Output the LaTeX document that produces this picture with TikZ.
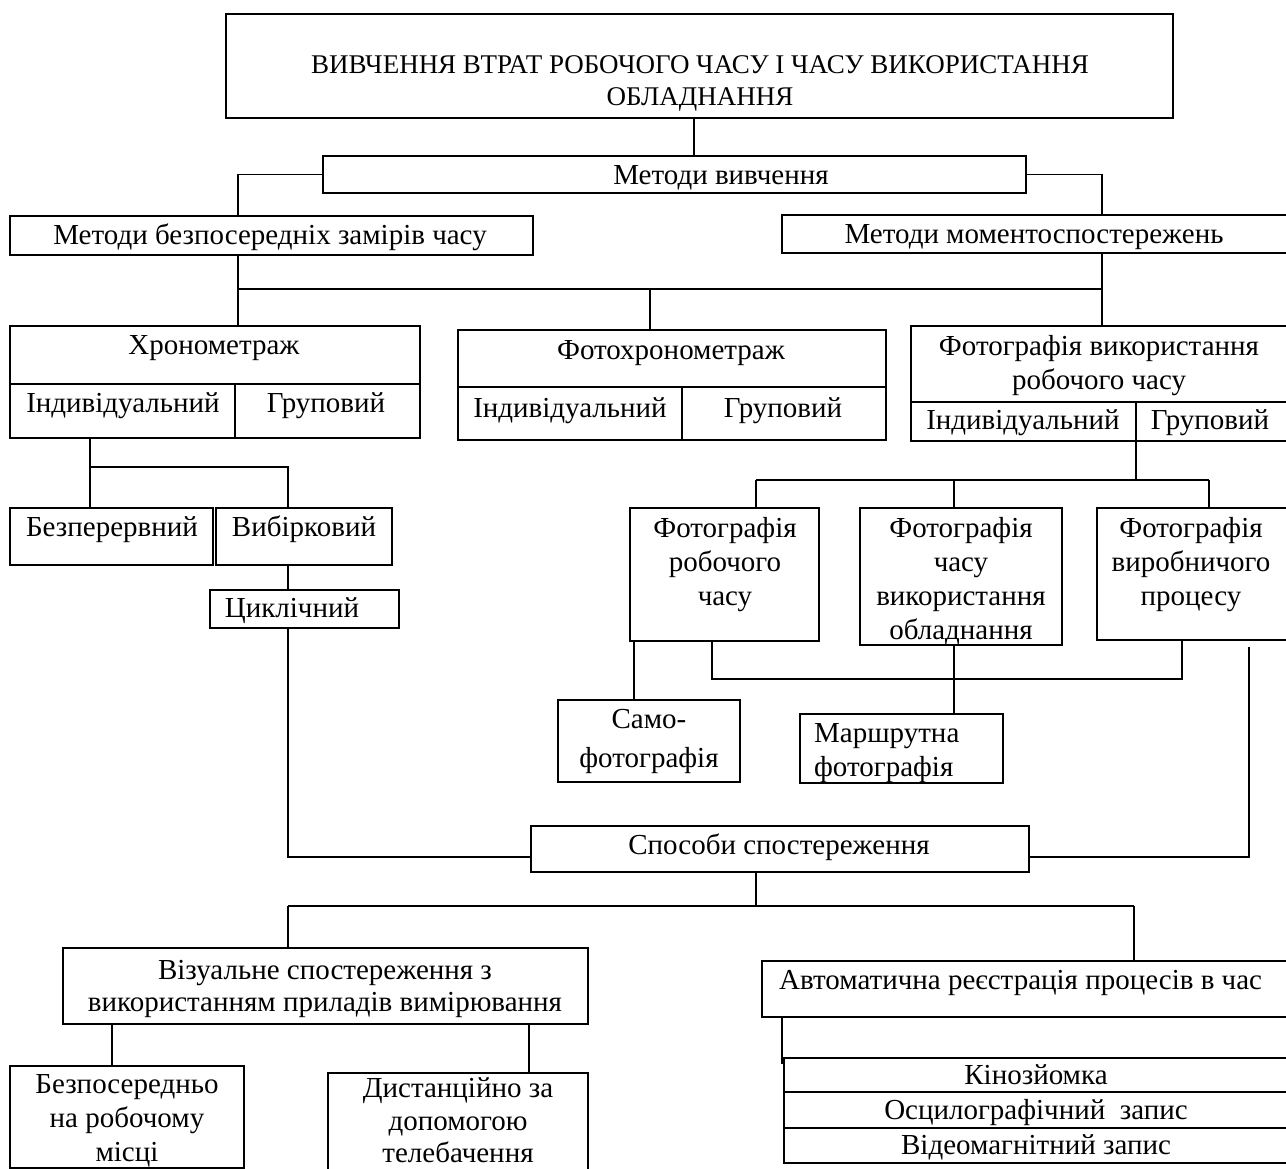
\documentclass[tikz,border=0pt]{standalone}
\usepackage{fontspec}
\setmainfont{Liberation Serif}
\newcommand{\fs}{\fontsize{29}{34}\selectfont}
\newcommand{\bxat}[5]{\node[bx, minimum width={(#4-#2)*1pt}, minimum height={(#5-#3)*1pt}] (#1) at ({(#2+#4)/2},{(#3+#5)/2}) {};}
\tikzset{
  bx/.style={draw, line width=2pt, inner sep=0pt, outer sep=0pt, rectangle},
  ln/.style={line width=1.5pt},
  tx/.style={inner sep=0pt, align=center, font=\fs, yshift=-3pt}
}
\begin{document}
\begin{tikzpicture}[x=1pt,y=-1pt]
\useasboundingbox (0,0) rectangle (1286,1169);
% ---------- boxes ----------
\bxat{top}{226}{14}{1173}{118}
\bxat{mv}{323}{156}{1026}{193}
\bxat{mbz}{10}{216}{533}{255}
\bxat{mms}{782}{215}{1292}{253}
\bxat{hron}{10}{326}{420}{384}
\bxat{hind}{10}{384}{235}{438}
\bxat{hgr}{235}{384}{420}{438}
\bxat{fh}{458}{330}{886}{387}
\bxat{fhind}{458}{387}{682}{440}
\bxat{fhgr}{682}{387}{886}{440}
\bxat{fv}{911}{326}{1292}{402}
\bxat{fvind}{911}{402}{1136}{441}
\bxat{fvgr}{1136}{402}{1292}{441}
\bxat{bez}{10}{508}{213}{565}
\bxat{vyb}{216}{508}{392}{565}
\bxat{cyk}{210}{590}{399}{628}
\bxat{fr}{630}{508}{819}{641}
\bxat{fc}{860}{508}{1062}{645}
\bxat{fp}{1097}{508}{1292}{640}
\bxat{samo}{558}{700}{740}{782}
\bxat{marsh}{800}{714}{1003}{783}
\bxat{spos}{531}{826}{1029}{872}
\bxat{viz}{63}{948}{588}{1024}
\bxat{bezp}{10}{1066}{244}{1168}
\bxat{dyst}{328}{1073}{588}{1180}
\bxat{avt}{762}{961}{1292}{1017}
\bxat{kino}{784}{1058}{1292}{1092}
\bxat{osc}{784}{1092}{1292}{1128}
\bxat{vid}{784}{1128}{1292}{1163}
% ---------- texts ----------
\node[tx, font=\fontsize{27}{32}\selectfont] (ttop) at (700,80) {\strut ВИВЧЕННЯ ВТРАТ РОБОЧОГО ЧАСУ І ЧАСУ ВИКОРИСТАННЯ\\\strut ОБЛАДНАННЯ};
\node[tx] (tmv) at (721,175) {\strut Методи вивчення};
\node[tx] (tmbz) at (270,235) {\strut Методи безпосередніх замірів часу};
\node[tx] (tmms) at (1034,234) {\strut Методи моментоспостережень};
\node[tx] (thron) at (214,345) {\strut Хронометраж};
\node[tx] (thind) at (123,403) {\strut Індивідуальний};
\node[tx] (thgr) at (326,403) {\strut Груповий};
\node[tx] (tfh) at (671,350) {\strut Фотохронометраж};
\node[tx] (tfhind) at (570,408) {\strut Індивідуальний};
\node[tx] (tfhgr) at (783,408) {\strut Груповий};
\node[tx] (tfv) at (1099,363) {\strut Фотографія використання\\\strut робочого часу};
\node[tx] (tfvind) at (1023,420) {\strut Індивідуальний};
\node[tx] (tfvgr) at (1210,420) {\strut Груповий};
\node[tx] (tbez) at (112,527) {\strut Безперервний};
\node[tx] (tvyb) at (304,527) {\strut Вибірковий};
\node[tx] (tcyk) at (292,608) {\strut Циклічний};
\node[tx] (tfr) at (725,562) {\strut Фотографія\\\strut робочого\\\strut часу};
\node[tx] (tfc) at (961,579) {\strut Фотографія\\\strut часу\\\strut використання\\\strut обладнання};
\node[tx] (tfp) at (1191,562) {\strut Фотографія\\\strut виробничого\\\strut процесу};
\node[tx, font=\fontsize{29}{39}\selectfont] (tsamo) at (649,737) {\strut Само-\\\strut фотографія};
\node[tx, align=left, anchor=west] (tmarsh) at (814,750) {\strut Маршрутна\\\strut фотографія};
\node[tx] (tspos) at (779,845) {\strut Способи спостереження};
\node[tx, font=\fontsize{29}{32}\selectfont] (tviz) at (325,986) {\strut Візуальне спостереження з\\\strut використанням приладів вимірювання};
\node[tx] (tbezp) at (127,1118) {\strut Безпосередньо\\\strut на робочому\\\strut місці};
\node[tx, font=\fontsize{29}{32.5}\selectfont] (tdyst) at (458,1116) {\strut Дистанційно за\\\strut допомогою\\телебачення};
\node[tx, anchor=west] (tavt) at (779,980) {\strut Автоматична реєстрація процесів в час};
\node[tx] (tkino) at (1036,1075) {\strut Кінозйомка};
\node[tx] (tosc) at (1036,1110) {\strut Осцилографічний\ \ запис};
\node[tx] (tvid) at (1036,1145) {\strut Відеомагнітний запис};
% ---------- junction coordinates ----------
\coordinate (j0) at (694,0);
\coordinate (jl) at (238,0);
\coordinate (jr) at (1102,0);
\coordinate (b1) at (238,289);
\coordinate (b2) at (1102,289);
\coordinate (b3) at (650,289);
\coordinate (h1) at (90,467);
\coordinate (h2) at (288,467);
\coordinate (s1) at (288,857);
\coordinate (s2) at (1249,857);
\coordinate (s2t) at (1249,647);
\coordinate (p0) at (1136,480);
\coordinate (p1) at (756,480);
\coordinate (p2) at (954,480);
\coordinate (p3) at (1209,480);
\coordinate (q1) at (634,0);
\coordinate (r1) at (712,679);
\coordinate (r2) at (1182,679);
\coordinate (u0) at (756,906);
\coordinate (u1) at (288,906);
\coordinate (u2) at (1134,906);
\coordinate (v1) at (112,0);
\coordinate (v2) at (529,0);
\coordinate (a1) at (782,0);
\coordinate (a1e) at (782,1064);
% ---------- connectors ----------
\draw[ln] (top.south -| j0) -- (mv.north -| j0);
\draw[ln] (mv.west) -- (mv.west -| jl) -- (mbz.north -| jl);
\draw[ln] (mv.east) -- (mv.east -| jr) -- (mms.north -| jr);
\draw[ln] (mbz.south -| b1) -- (hron.north -| b1);
\draw[ln] (b1) -- (b2);
\draw[ln] (mms.south -| b2) -- (fv.north -| b2);
\draw[ln] (b3) -- (fh.north -| b3);
\draw[ln] (hind.south -| h1) -- (bez.north -| h1);
\draw[ln] (h1) -- (h2) -- (vyb.north -| h2);
\draw[ln] (vyb.south -| h2) -- (cyk.north -| h2);
\draw[ln] (cyk.south -| s1) -- (s1) -- (spos.west |- s1);
\draw[ln] (spos.east |- s2) -- (s2) -- (s2t);
\draw[ln] (fvind.south east) -- (p0);
\draw[ln] (p1) -- (p3);
\draw[ln] (p1) -- (fr.north -| p1);
\draw[ln] (p2) -- (fc.north -| p2);
\draw[ln] (p3) -- (fp.north -| p3);
\draw[ln] (fr.south -| q1) -- (samo.north -| q1);
\draw[ln] (fr.south -| r1) -- (r1) -- (r2) -- (fp.south -| r2);
\draw[ln] (fc.south -| p2) -- (marsh.north -| p2);
\draw[ln] (spos.south -| u0) -- (u0);
\draw[ln] (u1) -- (u2);
\draw[ln] (u1) -- (viz.north -| u1);
\draw[ln] (u2) -- (avt.north -| u2);
\draw[ln] (viz.south -| v1) -- (bezp.north -| v1);
\draw[ln] (viz.south -| v2) -- (dyst.north -| v2);
\draw[ln] (avt.south -| a1) -- (a1e);
\end{tikzpicture}
\end{document}
